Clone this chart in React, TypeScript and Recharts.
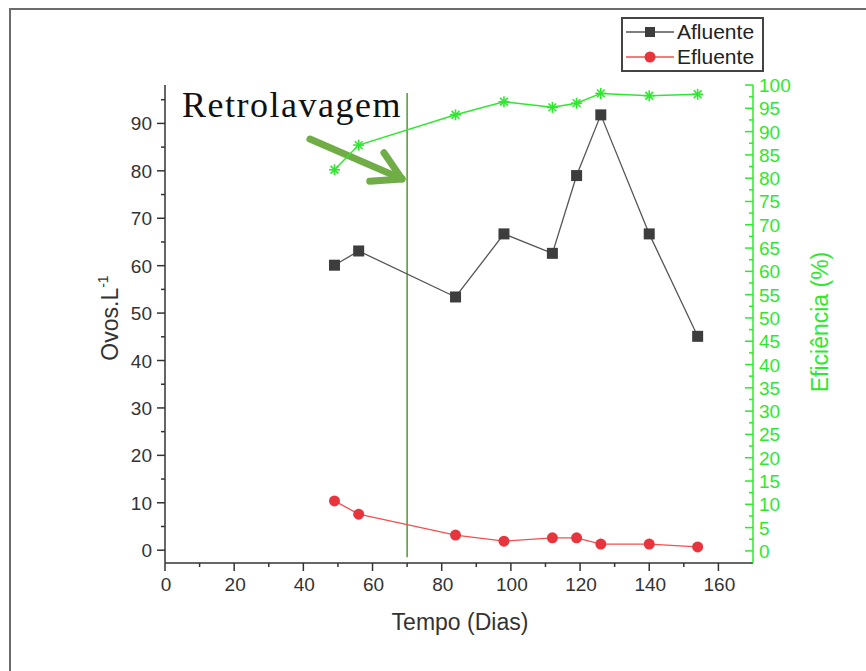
import { ComposedChart, Line, XAxis, YAxis, ReferenceLine, Customized } from 'recharts';

// tempo de operação (dias)
const dias = [49, 56, 84, 98, 112, 119, 126, 140, 154];
// ovos por litro
const afluente = [60.1, 63.1, 53.4, 66.7, 62.6, 79.0, 91.8, 66.7, 45.1];
const efluente = [10.4, 7.6, 3.2, 1.9, 2.6, 2.6, 1.3, 1.3, 0.7];
// eficiência de remoção (%)
const eficiencia = [81.8, 87.1, 93.6, 96.4, 95.2, 96.1, 98.2, 97.7, 98.0];

const xTicks = [0, 10, 20, 30, 40, 50, 60, 70, 80, 90, 100, 110, 120, 130, 140, 150, 160];
const leftTicks = [0, 5, 10, 15, 20, 25, 30, 35, 40, 45, 50, 55, 60, 65, 70, 75, 80, 85, 90, 95];
const rightTicks = [
    0, 2.5, 5, 7.5, 10, 12.5, 15, 17.5, 20, 22.5, 25, 27.5, 30, 32.5, 35, 37.5, 40, 42.5, 45, 47.5, 50,
    52.5, 55, 57.5, 60, 62.5, 65, 67.5, 70, 72.5, 75, 77.5, 80, 82.5, 85, 87.5, 90, 92.5, 95, 97.5, 100,
];

const retrolavagem = 70;
const linhaRetro = [-1.5, 96.4];
// seta: cauda, ponta e as duas abas da ponta (coordenadas do gráfico)
const setaCauda = { x: 41.9, y: 86.7 };
const setaPonta = { x: 68.5, y: 78.3 };
const setaAba1 = { x: 63.3, y: 83.8 };
const setaAba2 = { x: 59.2, y: 77.8 };

const data = dias.map((d, i) => ({
    dia: d,
    afluente: afluente[i],
    efluente: efluente[i],
    eficiencia: eficiencia[i],
}));

const FONT = '"Liberation Sans", Arial, sans-serif';
const DARK = '#333333';
const GREEN = '#2ee82e';
const RED = '#e8343c';
const GRAY_MARK = '#3d3d3d';

const XTick = (p: any) => {
    const v = p.payload.value;
    const major = v % 20 === 0;
    const axisY = p.y - 8;
    return (
        <g>
            <line x1={p.x} x2={p.x} y1={axisY} y2={axisY + (major ? 8 : 4)} stroke={DARK} strokeWidth={1.5} />
            {major && (
                <text x={p.x + 1} y={p.y} dy={20} textAnchor="middle" fontSize={19} fontFamily={FONT} fill={DARK}>
                    {v}
                </text>
            )}
        </g>
    );
};

const LeftTick = (p: any) => {
    const v = p.payload.value;
    const major = v % 10 === 0;
    const axisX = p.x + 13;
    return (
        <g>
            <line x1={axisX} x2={axisX - (major ? 8 : 4)} y1={p.y} y2={p.y} stroke={DARK} strokeWidth={1.5} />
            {major && (
                <text x={p.x} y={p.y} dy={7} textAnchor="end" fontSize={19} fontFamily={FONT} fill={DARK}>
                    {v}
                </text>
            )}
        </g>
    );
};

const RightTick = (p: any) => {
    const v = p.payload.value;
    const major = v % 5 === 0;
    const axisX = p.x - 6;
    return (
        <g>
            <line x1={axisX} x2={axisX - (major ? 8 : 4)} y1={p.y} y2={p.y} stroke={GREEN} strokeWidth={1.5} />
            {major && (
                <text x={p.x} y={p.y} dy={7} textAnchor="start" fontSize={19} fontFamily={FONT} fill={GREEN}>
                    {v}
                </text>
            )}
        </g>
    );
};

const SquareDot = (p: any) => (
    <rect key={`sq-${p.index}`} x={p.cx - 5.5} y={p.cy - 5.5} width={11} height={11} fill={GRAY_MARK} />
);

const CircleDot = (p: any) => <circle key={`ci-${p.index}`} cx={p.cx} cy={p.cy} r={5.5} fill={RED} />;

const StarDot = (p: any) => {
    const r = 5.5;
    const d = r * 0.707;
    return (
        <g key={`st-${p.index}`} stroke={GREEN} strokeWidth={1.6}>
            <line x1={p.cx - r} x2={p.cx + r} y1={p.cy} y2={p.cy} />
            <line x1={p.cx} x2={p.cx} y1={p.cy - r} y2={p.cy + r} />
            <line x1={p.cx - d} x2={p.cx + d} y1={p.cy - d} y2={p.cy + d} />
            <line x1={p.cx - d} x2={p.cx + d} y1={p.cy + d} y2={p.cy - d} />
        </g>
    );
};

const LegendBox = () => (
    <div
        style={{
            position: 'absolute',
            left: 621,
            top: 17,
            border: '2px solid #444',
            width: 139,
            height: 51,
            background: '#fff',
            fontFamily: FONT,
            fontSize: 21,
            color: '#222',
            zIndex: 2,
        }}
    >
        <div style={{ display: 'flex', alignItems: 'center', height: 25 }}>
            <svg width={54} height={14}>
                <line x1={3} x2={51} y1={7} y2={7} stroke="#555" strokeWidth={1.3} />
                <rect x={22} y={2} width={10} height={10} fill={GRAY_MARK} />
            </svg>
            <span>Afluente</span>
        </div>
        <div style={{ display: 'flex', alignItems: 'center', height: 25 }}>
            <svg width={54} height={14}>
                <line x1={3} x2={51} y1={7} y2={7} stroke="#f25050" strokeWidth={1.3} />
                <circle cx={27} cy={7} r={5.5} fill={RED} />
            </svg>
            <span>Efluente</span>
        </div>
    </div>
);

const Titles = () => (
    <g>
        <text x={182} y={117} fontSize={36} letterSpacing={1.5} fontFamily='"Liberation Serif", "Times New Roman", serif' fill="#111">
            Retrolavagem
        </text>
        <text x={460} y={630} textAnchor="middle" fontSize={23} fontFamily={FONT} fill={DARK}>
            Tempo (Dias)
        </text>
        <text x={118} y={318} transform="rotate(-90 118 318)" textAnchor="middle" fontSize={23} fontFamily={FONT} fill={DARK}>
            Ovos.L
            <tspan fontSize={14} dy={-10}>
                -1
            </tspan>
        </text>
        <text x={828} y={322} transform="rotate(-90 828 322)" textAnchor="middle" fontSize={23} fontFamily={FONT} fill={GREEN}>
            Eficiência (%)
        </text>
    </g>
);

export default function App() {
    return (
        <div style={{ position: 'absolute', left: 0, top: 0, width: 866, height: 671, background: '#fff', overflow: 'hidden' }}>
            <div
                style={{
                    position: 'absolute',
                    left: 9,
                    top: 8,
                    width: 880,
                    height: 700,
                    borderLeft: '2px solid #6b6b6b',
                    borderTop: '2px solid #6b6b6b',
                }}
            />
            <LegendBox />
            <ComposedChart width={866} height={671} data={data} margin={{ top: 85, right: 0, bottom: 0, left: 0 }}>
                <XAxis
                    type="number"
                    dataKey="dia"
                    domain={[0, 170]}
                    ticks={xTicks}
                    interval={0}
                    height={108}
                    tickSize={8}
                    tickMargin={0}
                    tickLine={false}
                    axisLine={{ stroke: DARK, strokeWidth: 1.5 }}
                    tick={XTick}
                    allowDataOverflow
                />
                <YAxis
                    yAxisId="left"
                    type="number"
                    domain={[-2.7, 98.1]}
                    ticks={leftTicks}
                    interval={0}
                    width={165}
                    tickSize={8}
                    tickMargin={5}
                    tickLine={false}
                    axisLine={{ stroke: DARK, strokeWidth: 1.5 }}
                    tick={LeftTick}
                    allowDataOverflow
                />
                <YAxis
                    yAxisId="right"
                    orientation="right"
                    type="number"
                    domain={[-2.6, 100]}
                    ticks={rightTicks}
                    interval={0}
                    width={113}
                    tickSize={2}
                    tickMargin={4}
                    tickLine={false}
                    axisLine={{ stroke: GREEN, strokeWidth: 1.5 }}
                    tick={RightTick}
                    allowDataOverflow
                />
                <ReferenceLine
                    yAxisId="left"
                    segment={[
                        { x: retrolavagem, y: linhaRetro[0] },
                        { x: retrolavagem, y: linhaRetro[1] },
                    ]}
                    stroke="#4e9a2a"
                    strokeWidth={1.5}
                    ifOverflow="visible"
                />
                <ReferenceLine
                    yAxisId="left"
                    segment={[setaCauda, setaPonta]}
                    stroke="#70ad47"
                    strokeWidth={7}
                    strokeLinecap="round"
                    ifOverflow="visible"
                />
                <ReferenceLine
                    yAxisId="left"
                    segment={[setaAba1, setaPonta]}
                    stroke="#70ad47"
                    strokeWidth={7}
                    strokeLinecap="round"
                    ifOverflow="visible"
                />
                <ReferenceLine
                    yAxisId="left"
                    segment={[setaAba2, setaPonta]}
                    stroke="#70ad47"
                    strokeWidth={7}
                    strokeLinecap="round"
                    ifOverflow="visible"
                />
                <Line
                    yAxisId="left"
                    dataKey="afluente"
                    stroke="#555"
                    strokeWidth={1.3}
                    dot={SquareDot}
                    activeDot={false}
                    isAnimationActive={false}
                />
                <Line
                    yAxisId="left"
                    dataKey="efluente"
                    stroke="#f25050"
                    strokeWidth={1.3}
                    dot={CircleDot}
                    activeDot={false}
                    isAnimationActive={false}
                />
                <Line
                    yAxisId="right"
                    dataKey="eficiencia"
                    stroke={GREEN}
                    strokeWidth={1.5}
                    dot={StarDot}
                    activeDot={false}
                    isAnimationActive={false}
                />
                <Customized component={Titles} />
            </ComposedChart>
        </div>
    );
}
